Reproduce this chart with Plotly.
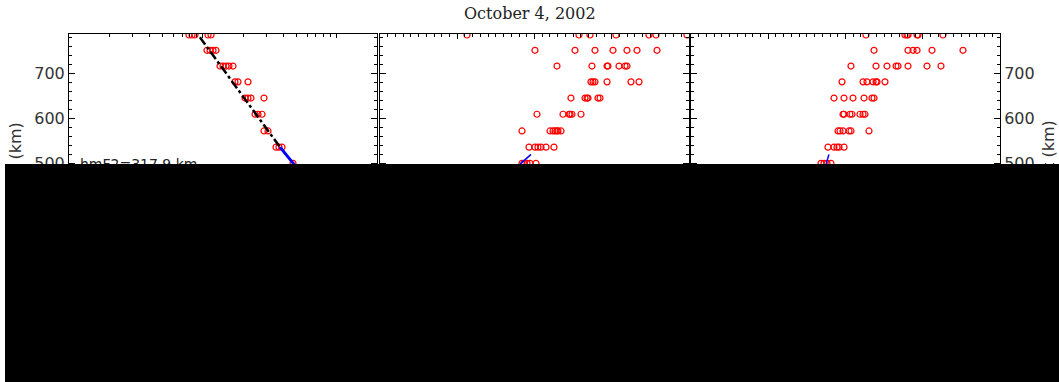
import plotly.graph_objects as go

# ---- data -------------------------------------------------------------
# Panel 1: electron density (cm^-3) versus height (km)
ne_heights = [785, 785, 785, 785, 785,
              751, 751, 751, 751,
              716, 716, 716, 716, 716,
              681, 681, 681,
              645, 645, 645, 645,
              609, 609, 609,
              572, 572,
              536, 536, 536,
              500]
ne_values = [7.88e4, 8.30e4, 8.73e4, 1.093e5, 1.151e5,
             1.074e5, 1.131e5, 1.191e5, 1.254e5,
             1.343e5, 1.414e5, 1.489e5, 1.567e5, 1.680e5,
             1.738e5, 1.831e5, 2.174e5,
             2.065e5, 2.174e5, 2.289e5, 2.863e5,
             2.453e5, 2.582e5, 2.767e5,
             2.863e5, 3.067e5,
             3.52e5, 3.706e5, 3.902e5,
             4.716e5]
fit_ne = [9.5e4, 3.77e5]
fit_h = [780, 536]
prof_ne = [3.77e5, 4.72e5, 6.1e5, 7.9e5, 9.6e5, 1.05e6]
prof_h = [536, 500, 460, 410, 360, 318]
hmf2_km = 317.9

# Panel 2
p2_h = [785] * 7 + [751] * 7 + [716] * 7 + [681] * 6 + [645] * 6 + [609] * 6 + [572] * 7 + [536] * 6 + [500] * 5
p2_x = [112.6, 257.6, 271.8, 305.5, 348.2, 357.3, 397.4,
        200.6, 252.4, 278.3, 301.6, 319.7, 332.7, 358.6,
        229.1, 274.4, 293.9, 295.1, 309.4, 317.2, 319.7,
        273.1, 275.7, 278.3, 293.9, 324.9, 335.3,
        247.2, 265.4, 268.0, 269.3, 282.2, 284.8,
        203.2, 236.9, 244.7, 246.0, 248.5, 260.2,
        183.8, 220.1, 224.0, 226.5, 229.1, 230.4, 234.3,
        192.9, 200.6, 204.5, 208.4, 214.9, 225.2,
        183.8, 186.4, 190.3, 194.2, 201.9]
p2_line_x = [195.5, 182.5, 170.0, 158.0]
p2_line_h = [520, 500, 470, 440]

# Panel 3
p3_h = [785] * 7 + [751] * 6 + [716] * 8 + [681] * 7 + [645] * 6 + [609] * 7 + [572] * 6 + [536] * 5 + [500] * 4
p3_x = [226.5, 277.0, 279.6, 280.9, 292.6, 293.9, 326.2,
        236.9, 280.9, 287.4, 292.6, 312.0, 352.1,
        207.1, 239.5, 253.7, 265.4, 268.0, 280.9, 305.5, 323.6,
        195.5, 222.7, 227.8, 235.6, 239.5, 240.8, 251.1,
        185.1, 198.1, 209.7, 224.0, 234.3, 236.9,
        196.8, 198.1, 205.8, 208.4, 218.8, 222.7, 225.2,
        190.3, 192.9, 196.8, 204.5, 207.1, 230.4,
        177.3, 185.1, 189.0, 191.6, 198.1,
        168.3, 172.2, 176.1, 181.2]
p3_line_x = [178.6, 174.8, 170.0, 165.0]
p3_line_h = [520, 500, 470, 440]

title_text = "October 4, 2002"
height_range = [150, 787.2]
p2_ticks = [0, 100, 200, 300]
p3_ticks = [0, 100, 200, 300, 400]

# ---- figure -----------------------------------------------------------
W, H = 1059, 382
RED = "#ff0000"
TICKFONT = dict(family="DejaVu Sans", size=16, color="#333333")

marker = dict(symbol="circle-open", size=6, color=RED, line=dict(width=1.2, color=RED))

fig = go.Figure()
fig.add_trace(go.Scatter(x=ne_values, y=ne_heights, mode="markers", marker=marker,
                         xaxis="x", yaxis="y", showlegend=False))
fig.add_trace(go.Scatter(x=fit_ne, y=fit_h, mode="lines",
                         line=dict(color="black", width=2.5, dash="dashdot"),
                         xaxis="x", yaxis="y", showlegend=False))
fig.add_trace(go.Scatter(x=prof_ne, y=prof_h, mode="lines",
                         line=dict(color="#0000ff", width=3),
                         xaxis="x", yaxis="y", showlegend=False))

fig.add_trace(go.Scatter(x=p2_x, y=p2_h, mode="markers", marker=marker,
                         xaxis="x2", yaxis="y2", showlegend=False))
fig.add_trace(go.Scatter(x=p2_line_x, y=p2_line_h, mode="lines",
                         line=dict(color="#0000ff", width=1.5),
                         xaxis="x2", yaxis="y2", showlegend=False))

fig.add_trace(go.Scatter(x=p3_x, y=p3_h, mode="markers", marker=marker,
                         xaxis="x3", yaxis="y3", showlegend=False))
fig.add_trace(go.Scatter(x=p3_line_x, y=p3_line_h, mode="lines",
                         line=dict(color="#0000ff", width=1.5),
                         xaxis="x3", yaxis="y3", showlegend=False))


def px_dom(a, b, total):
    return [a / total, b / total]


top, bottom = 34, 321
ydom = [1 - bottom / H, 1 - top / H]

common_axis = dict(showline=True, linecolor="black", linewidth=1, mirror="ticks",
                   ticks="inside", tickcolor="black", showgrid=False, zeroline=False,
                   automargin=False, tickfont=TICKFONT)

yaxis_base = dict(common_axis, range=height_range, tick0=0, dtick=100, ticklen=6,
                  minor=dict(ticks="inside", ticklen=3, dtick=20, tickcolor="black"),
                  domain=ydom)

layout = dict(
    width=W, height=H,
    margin=dict(l=0, r=0, t=0, b=0),
    paper_bgcolor="white", plot_bgcolor="white",
    xaxis=dict(common_axis, type="log", range=[4, 6.30103], dtick=1, ticklen=4,
               minor=dict(ticks="inside", ticklen=3, dtick="D1", tickcolor="black"),
               domain=px_dom(69, 377, W), anchor="y", showticklabels=True),
    xaxis2=dict(common_axis, range=[0, 400], tickvals=p2_ticks, ticklen=5,
                minor=dict(ticks="inside", ticklen=3, dtick=10, tickcolor="black"),
                domain=px_dom(380, 689, W), anchor="y2"),
    xaxis3=dict(common_axis, range=[0, 400], tickvals=p3_ticks, ticklen=5,
                minor=dict(ticks="inside", ticklen=3, dtick=10, tickcolor="black"),
                domain=px_dom(691, 1000, W), anchor="y3"),
    yaxis=dict(yaxis_base, anchor="x", side="left"),
    yaxis2=dict(yaxis_base, anchor="x2", showticklabels=False),
    yaxis3=dict(yaxis_base, anchor="x3", side="right"),
)
fig.update_layout(**layout)

annotations = [
    dict(text=title_text, x=530 / W, y=1 - 14 / H, xref="paper", yref="paper",
         showarrow=False, font=dict(family="DejaVu Serif", size=16, color="#222222"),
         xanchor="center", yanchor="middle"),
    dict(text="Height (km)", x=15 / W, y=1 - 121 / H, xref="paper", yref="paper",
         textangle=-90, showarrow=False, font=TICKFONT, xanchor="center", yanchor="top"),
    dict(text="Height (km)", x=1048 / W, y=1 - 119 / H, xref="paper", yref="paper",
         textangle=-90, showarrow=False, font=TICKFONT, xanchor="center", yanchor="top"),
    dict(text=f"hmF2={hmf2_km:.1f} km", x=78 / W, y=1 - 154 / H, xref="paper", yref="paper",
         showarrow=False, font=dict(family="DejaVu Sans", size=14, color="#222222"),
         xanchor="left", yanchor="top"),
    # opaque panel over the lower part of the page (drawn last, so it sits on top)
    dict(text=" ", x=5 / W, y=1 - 164 / H, xref="paper", yref="paper",
         showarrow=False, xanchor="left", yanchor="top",
         width=W - 5, height=H - 164, bgcolor="black", borderpad=0, borderwidth=0),
]
fig.update_layout(annotations=annotations)

fig.add_shape(type="rect", xref="paper", yref="paper",
              x0=5 / W, x1=1, y0=0, y1=1 - 164 / H,
              fillcolor="black", line=dict(width=0), layer="above")

fig.write_html("out.html")
